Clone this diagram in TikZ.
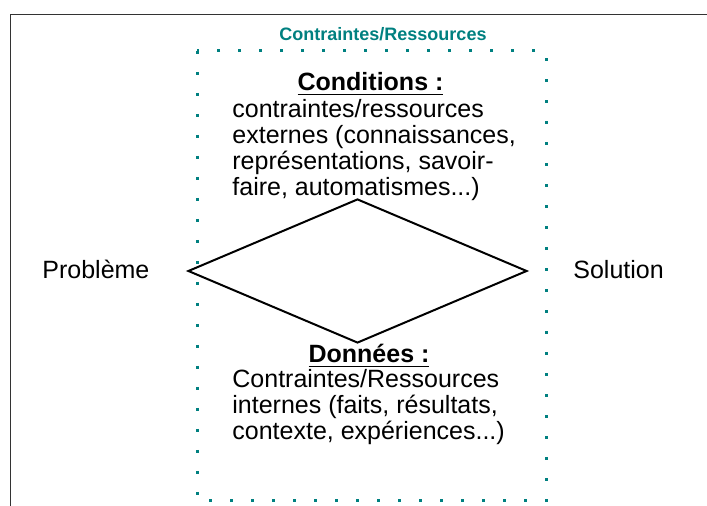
\documentclass[tikz,border=0pt]{standalone}
\usepackage{fontspec}
\setmainfont{Liberation Sans}
\usetikzlibrary{shapes.geometric,positioning}
\definecolor{sarcelle}{RGB}{0,128,128}

\begin{document}
\begin{tikzpicture}[
    x=0.5pt, y=-0.5pt,
    txt/.style={inner sep=0pt, font=\fontsize{12.5}{13}\selectfont},
    head/.style={txt, font=\fontsize{12.5}{13}\selectfont\bfseries},
    body/.style={txt, align=left, anchor=base west},
    cadre/.style={sarcelle, line width=1.5pt, line cap=butt, dash pattern=on 1.5pt off 9pt},
    losange/.style={diamond, draw, line width=1pt, inner sep=0pt, minimum width=169.5pt, minimum height=72pt}
]
\useasboundingbox (0,0) rectangle (707,506);

% frame, only top and left visible
\draw[black!80, line width=0.6pt] (10.5,506) -- (10.5,14.5) -- (707,14.5);

% dotted box
\draw[cadre] (197,51) rectangle (546,501);
\node[txt, anchor=base, text=sarcelle, font=\fontsize{9}{10}\selectfont\bfseries] (titre) at (383,41) {Contraintes/Ressources};

% the diamond
\node[losange] (pb) at (357.5,271) {};

\node[txt, anchor=base west] (probleme) at (42,279) {Problème};
\node[txt, anchor=base west] (solution) at (573,279) {Solution};

% conditions (base = last line)
\node[head, anchor=base] (condtitre) at (370.5,91) {\underline{Conditions :}};
\node[body] (condtxt) at (232,195.5) {contraintes/ressources\\externes (connaissances,\\représentations, savoir-\\faire, automatismes...)};

% donnees
\node[head, anchor=base] (dontitre) at (369,363) {\underline{Données :}};
\node[body] (dontxt) at (232,440) {Contraintes/Ressources\\internes (faits, résultats,\\contexte, expériences...)};

\end{tikzpicture}
\end{document}
